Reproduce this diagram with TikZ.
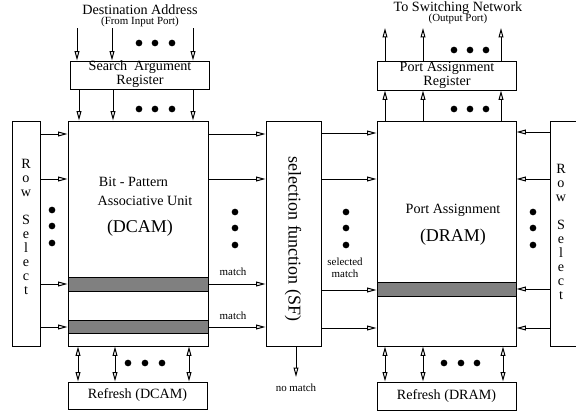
\documentclass[tikz,border=0pt]{standalone}
\usepackage{fontspec}
\setmainfont{Liberation Serif}
\usetikzlibrary{arrows.meta,fit}

\tikzset{every picture/.style={line width=0.75pt}}
\tikzset{
  blk/.style={draw, inner sep=0pt},
  grbar/.style={draw, fill=gray, inner sep=0pt},
  arr/.style={-{Triangle[open,length=7pt,width=3.6pt]}},
  darr/.style={{Triangle[open,length=7pt,width=3.6pt]}-{Triangle[open,length=7pt,width=3.6pt]}},
  bdot/.style={circle, fill, inner sep=0pt, minimum size=5pt},
  lbl/.style={inner sep=0.75pt, font=\fontsize{10.6}{12}\selectfont},
  sml/.style={inner sep=0.75pt, font=\fontsize{8.2}{9.5}\selectfont},
  big/.style={inner sep=0.75pt, font=\fontsize{13.5}{15}\selectfont},
}

\begin{document}
\begin{tikzpicture}[x=0.75pt,y=0.75pt,yscale=-1,xscale=1]
\useasboundingbox (0,0) rectangle (576,414);
\clip (0,0) rectangle (576,414);

%Shape: Rectangle (search argument register)
\node [blk, fit={(70,61) (209,89)}] (sar) {};
%Shape: Rectangle (port assignment register)
\node [blk, fit={(377,61) (516,90)}] (par) {};
%Shape: Rectangle (row select, left)
\node [blk, fit={(12,121) (40,346)}] (rsl) {};
%Shape: Rectangle (DCAM)
\node [blk, fit={(68,121) (208,346)}] (dcam) {};
%Shape: Rectangle (selection function)
\node [blk, fit={(266,121) (321,346)}] (sf) {};
%Shape: Rectangle (DRAM)
\node [blk, fit={(377,121) (516,346)}] (dram) {};
%Shape: Rectangle (row select, right)
\node [blk, fit={(550,121) (600,346)}] (rsr) {};
%Shape: Rectangle (refresh)
\node [blk, fit={(68,382) (207,409)}] (rfc) {};
\node [blk, fit={(377,382) (516,410)}] (rfd) {};
%Shape: Rectangle (matching rows)
\node [grbar, fit={(68,277) (208,291)}] (mrow1) {};
\node [grbar, fit={(68,320) (208,333)}] (mrow2) {};
\node [grbar, fit={(377,282) (516,296)}] (srow) {};

%Straight Lines (inputs and outputs)
\foreach \x [count=\i] in {77,112,193} {
  \coordinate (in\i) at (\x,28);
  \draw [arr] (in\i) -- (in\i |- sar.north);
}
\foreach \x in {79,113,193}
  \draw [arr] (sar.south -| \x,0) -- (dcam.north -| \x,0);
\foreach \x [count=\i] in {385,423,501} {
  \coordinate (out\i) at (\x,28);
  \draw [arr] (dram.north -| out\i) -- (par.south -| out\i);
  \draw [arr] (par.north -| out\i) -- (out\i);
}

%Straight Lines (rows)
\foreach \y in {134,179,284,327} {
  \draw [arr] (rsl.east |- 0,\y) -- (dcam.west |- 0,\y);
  \draw [arr] (dcam.east |- 0,\y) -- (sf.west |- 0,\y);
}
\foreach \y in {133,179,290,328}
  \draw [arr] (sf.east |- 0,\y) -- (dram.west |- 0,\y);
\foreach \y in {132,179,289,328}
  \draw [arr] (rsr.west |- 0,\y) -- (dram.east |- 0,\y);

%Straight Lines (refresh)
\foreach \x in {78,115,189}
  \draw [darr] (dcam.south -| \x,0) -- (rfc.north -| \x,0);
\foreach \x in {385,423,503}
  \draw [darr] (dram.south -| \x,0) -- (rfd.north -| \x,0);
\coordinate (nm) at (296,377);
\draw [arr] (sf.south -| nm) -- (nm);

%Dots
\foreach \x in {139,155,172} {
  \node [bdot] at (\x,43) {};
  \node [bdot] at (\x,109) {};
}
\foreach \x in {454,470,486} {
  \node [bdot] at (\x,50) {};
  \node [bdot] at (\x,109) {};
}
\foreach \x in {128,145,162}
  \node [bdot] at (\x,363) {};
\foreach \x in {444,461,477}
  \node [bdot] at (\x,363) {};
\foreach \y in {210,226,243}
  \node [bdot] at (52,\y) {};
\foreach \y in {212,228,245} {
  \node [bdot] at (235,\y) {};
  \node [bdot] at (346,\y) {};
  \node [bdot] at (533,\y) {};
}

% Text Node
\draw (140,10) node [lbl] (dest) {Destination Address};
\draw (140,22) node [sml] (destsub) {(From Input Port)};
\draw (458,8) node [lbl] (net) {To Switching Network};
\draw (458,19) node [sml] (netsub) {(Output Port)};
% Text Node
\draw (140,74.5) node [lbl, align=center] (sartxt) {Search\ \ Argument\\[-1.5pt]Register};
\draw (447,75.5) node [lbl, align=center] (partxt) {Port Assignment\\[-1.5pt]Register};
% Text Node
\draw (26,227) node [lbl, align=center, font=\fontsize{10.6}{10.5}\selectfont] (rsltxt) {R\\o\\w\\[10.5pt]S\\e\\l\\e\\c\\t};
\draw (561,232) node [lbl, align=center, font=\fontsize{10.6}{10.5}\selectfont] (rsrtxt) {R\\o\\w\\[10.5pt]S\\e\\l\\e\\c\\t};
% Text Node
\draw (133.5,182) node [lbl] (bp) {Bit - Pattern};
\draw (145,201) node [lbl] (au) {Associative Unit};
\draw (140,228) node [big] (dcamtxt) {(DCAM)};
\draw (453,210) node [lbl] (pa) {Port Assignment};
\draw (453,237) node [big] (dramtxt) {(DRAM)};
\draw (293,239) node [big, rotate=-90] (sftxt) {selection function (SF)};
% Text Node
\draw (233,272) node [sml] (m1) {match};
\draw (233,316) node [sml] (m2) {match};
\draw (345,268) node [sml, align=center, font=\fontsize{8.2}{9}\selectfont] (sm) {selected\\match};
\draw (296,388) node [sml] (nmtxt) {no match};
% Text Node
\draw (137.5,395.5) node [lbl] (rfctxt) {Refresh (DCAM)};
\draw (446.5,396) node [lbl] (rfdtxt) {Refresh (DRAM)};

\end{tikzpicture}
\end{document}
